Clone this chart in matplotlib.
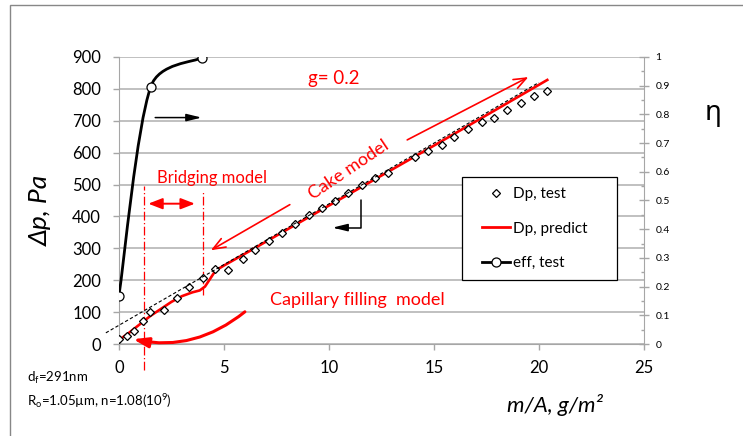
import matplotlib
matplotlib.use('Agg')
import matplotlib.pyplot as plt
from matplotlib.path import Path
from matplotlib.patches import FancyArrowPatch, PathPatch, Rectangle
from matplotlib.lines import Line2D
from matplotlib.legend_handler import HandlerLine2D
import numpy as np

plt.rcParams['font.family'] = ['Lato', 'Noto Sans', 'DejaVu Sans']
plt.rcParams['mathtext.fontset'] = 'custom'
plt.rcParams['mathtext.rm'] = 'Lato'
plt.rcParams['mathtext.it'] = 'Lato:italic'

# measured pressure drop vs. dust load
load_test = [0, 0.37, 0.73, 1.13, 1.5, 2.14, 2.75, 3.35, 4.0, 4.57, 5.2, 5.89, 6.5,
             7.16, 7.78, 8.41, 9.05, 9.68, 10.29, 10.9, 11.56, 12.19, 12.82, 14.1,
             14.73, 15.37, 15.97, 16.63, 17.27, 17.87, 18.5, 19.14, 19.78, 20.4]
dp_test = [15, 25, 40, 72, 101, 106, 145, 179, 208, 236, 233, 265, 296,
           323, 348, 377, 403, 428, 448, 474, 499, 520, 537, 585,
           606, 624, 650, 674, 695, 710, 734, 755, 778, 794]

# model prediction
load_pred = [0, 0.5, 1.0, 1.5, 2.0, 2.5, 3.0, 3.5, 3.85, 4.1, 4.35, 4.6, 5.0,
             6.0, 10.0, 15.0, 20.4]
dp_pred = [12, 36, 62, 88, 110, 132, 150, 162, 168, 180, 205, 230, 246,
           283, 434, 622, 828]

# cake filtration trend line
load_trend = [-0.62, 20.0]
dp_trend = [35, 820]

# measured collection efficiency
load_eff = [0, 1.52, 3.98]
eff = [0.167, 0.897, 0.998]

RED = '#ff0000'
GREY = '#a6a6a6'


def smooth_path(xs, ys, sx, sy, t_in, t_out):
    # smoothed line through the points (cubic Bezier segments)
    p = np.column_stack([np.asarray(xs) * sx, np.asarray(ys) * sy])
    n = len(p)
    verts = [p[0]]
    codes = [Path.MOVETO]
    for i in range(n - 1):
        p0 = p[max(i - 1, 0)]
        p1 = p[i]
        p2 = p[i + 1]
        p3 = p[min(i + 2, n - 1)]
        verts += [p1 + (p2 - p0) * t_out[i], p2 - (p3 - p1) * t_in[i + 1], p2]
        codes += [Path.CURVE4] * 3
    v = np.array(verts)
    v[:, 0] /= sx
    v[:, 1] /= sy
    return Path(v, codes)


fig = plt.figure(figsize=(7.43, 4.36), dpi=100)
ax = fig.add_axes([0.160, 0.211, 0.7066, 0.6583])
ax2 = ax.twinx()

# outer chart frame
fig.add_artist(Rectangle((9.5 / 743, -0.1), 2, 1 - 5.5 / 436 + 0.1,
                         transform=fig.transFigure, fill=False,
                         ec='#878787', lw=1))

ax.set_xlim(0, 25)
ax.set_ylim(0, 900)
ax.set_xticks(range(0, 26, 5))
ax.set_yticks(range(0, 901, 100))
ax.yaxis.grid(True, color='#c0c0c0', lw=1.4)
ax.set_axisbelow(True)
for s in ['top', 'right']:
    ax.spines[s].set_visible(False)
for s in ['left', 'bottom']:
    ax.spines[s].set_color(GREY)
ax.tick_params(axis='y', length=4.3, color=GREY, width=1, pad=8.5, labelsize=12)
ax.tick_params(axis='x', length=4.3, color=GREY, width=1, pad=7, labelsize=12)

ax2.set_ylim(0, 1)
ax2.set_yticks(np.arange(0, 1.01, 0.1))
ax2.set_yticklabels(['0', '0.1', '0.2', '0.3', '0.4', '0.5', '0.6', '0.7', '0.8', '0.9', '1'])
ax2.set_yticks(np.arange(0.05, 1.0, 0.1), minor=True)
for s in ['top', 'left', 'bottom']:
    ax2.spines[s].set_visible(False)
ax2.spines['right'].set_color(GREY)
ax2.tick_params(axis='y', which='major', direction='inout', length=6.5, color=GREY,
                width=1, pad=5, labelsize=7.5)
ax2.tick_params(axis='y', which='minor', direction='in', length=2.5, color=GREY, width=1)

# pressure drop series
ax.plot(load_pred, dp_pred, color=RED, lw=1.9, zorder=3)
ax.plot(load_test, dp_test, ls='none', marker='D', ms=4.5, mfc='white', mec='black',
        mew=0.9, zorder=4)
ax.plot(load_trend, dp_trend, color='black', lw=0.8, ls=(0, (3, 2)), zorder=5,
        clip_on=False)

# efficiency series on the secondary axis
eff_path = smooth_path(load_eff, eff, 21, 287, t_in=[0.17, 0.17, 0.17],
                       t_out=[0.17, 0.1, 0.1])
ax2.add_patch(PathPatch(eff_path, fill=False, ec='black', lw=2, zorder=3))
ax2.plot(load_eff, eff, ls='none', marker='o', ms=6.5, mfc='white', mec='black',
         mew=0.9, zorder=4)
ax2.set_xlim(0, 25)
ax2.set_ylim(0, 1)

# axis pointers
ax.annotate('', xy=(3.94, 710), xytext=(1.73, 710),
            arrowprops=dict(arrowstyle='-|>,head_length=0.9,head_width=0.22',
                            color='black', lw=1.1, shrinkA=0, shrinkB=0,
                            mutation_scale=10))
ax.add_patch(FancyArrowPatch(path=Path([(11.55, 452), (11.55, 365), (10.17, 365)]),
                             arrowstyle='-|>,head_length=0.9,head_width=0.22',
                             color='black', lw=1.1, mutation_scale=10))

# model regions
ax.plot([1.2, 1.2], [-80, 497], color=RED, lw=0.9, ls=(0, (7, 2, 1, 2)), clip_on=False)
ax.plot([4.02, 4.02], [153, 481], color=RED, lw=0.9, ls=(0, (7, 2, 1, 2)))
ax.annotate('', xy=(3.62, 440), xytext=(1.4, 440),
            arrowprops=dict(arrowstyle='<|-|>,head_length=0.85,head_width=0.33',
                            color=RED, lw=1.4, shrinkA=0, shrinkB=0,
                            mutation_scale=10))
ax.annotate('', xy=(19.5, 837), xytext=(13.73, 640),
            arrowprops=dict(arrowstyle='->,head_length=0.9,head_width=0.35',
                            color=RED, lw=1.2, shrinkA=0, shrinkB=0,
                            mutation_scale=10))
ax.annotate('', xy=(4.38, 294), xytext=(8.14, 437),
            arrowprops=dict(arrowstyle='->,head_length=0.9,head_width=0.35',
                            color=RED, lw=1.2, shrinkA=0, shrinkB=0,
                            mutation_scale=10))
ax.add_patch(FancyArrowPatch(path=Path([(6.0, 101), (3.62, -25), (0.68, 15)],
                                       [Path.MOVETO, Path.CURVE3, Path.CURVE3]),
                             arrowstyle='-|>,head_length=0.9,head_width=0.3',
                             color=RED, lw=2.2, mutation_scale=10, clip_on=False,
                             zorder=5))

ax.text(10.24, 834, 'g= 0.2', color=RED, fontsize=13.5, ha='center', va='center')
ax.text(10.95, 547, 'Cake model', color=RED, fontsize=13, ha='center', va='center',
        rotation=34, rotation_mode='anchor')
ax.text(4.45, 522, 'Bridging model', color=RED, fontsize=12, ha='center', va='center')
ax.text(7.19, 137, 'Capillary filling  model', color=RED, fontsize=13, ha='left',
        va='center')

# legend
handles = [
    Line2D([], [], ls='none', marker='D', ms=4.5, mfc='white', mec='black', mew=0.9),
    Line2D([], [], color=RED, lw=2),
    Line2D([], [], color='black', lw=2, marker='o', ms=6.5, mfc='white', mec='black',
           mew=0.9),
]
leg = ax2.legend(handles, ['Dp, test', 'Dp, predict', 'eff, test'], loc='upper left',
                 bbox_to_anchor=(462 / 743, 1 - 285 / 436, 155 / 743, 108 / 436),
                 bbox_transform=fig.transFigure, mode='expand', borderaxespad=0,
                 fontsize=11, labelspacing=1.35, handlelength=2.5, handletextpad=0.2,
                 borderpad=0.65, fancybox=False, framealpha=1, edgecolor='black',
                 handler_map={Line2D: HandlerLine2D(xpad=0.65)})
leg.get_frame().set_linewidth(0.9)

# axis titles and notes
fig.text(40 / 743, 1 - 210 / 436, 'Δp, Pa', rotation=90, style='italic', fontsize=19,
         ha='center', va='center')
fig.text(555 / 743, 1 - 405 / 436, 'm/A, g/m²', style='italic', fontsize=16,
         ha='center', va='center')
fig.text(713 / 743, 1 - 113 / 436, 'η', fontsize=20, family=['Noto Sans', 'DejaVu Sans'],
         ha='center', va='center')
fig.text(27 / 743, 1 - 378 / 436, r'd$_\mathregular{f}$=291nm', fontsize=9.5,
         ha='left', va='center')
fig.text(27 / 743, 1 - 401 / 436,
         r'R$_\mathregular{o}$=1.05µm, n=1.08(10$^\mathregular{9}$)', fontsize=9.5,
         ha='left', va='center')

fig.savefig('out.png', dpi=100)
